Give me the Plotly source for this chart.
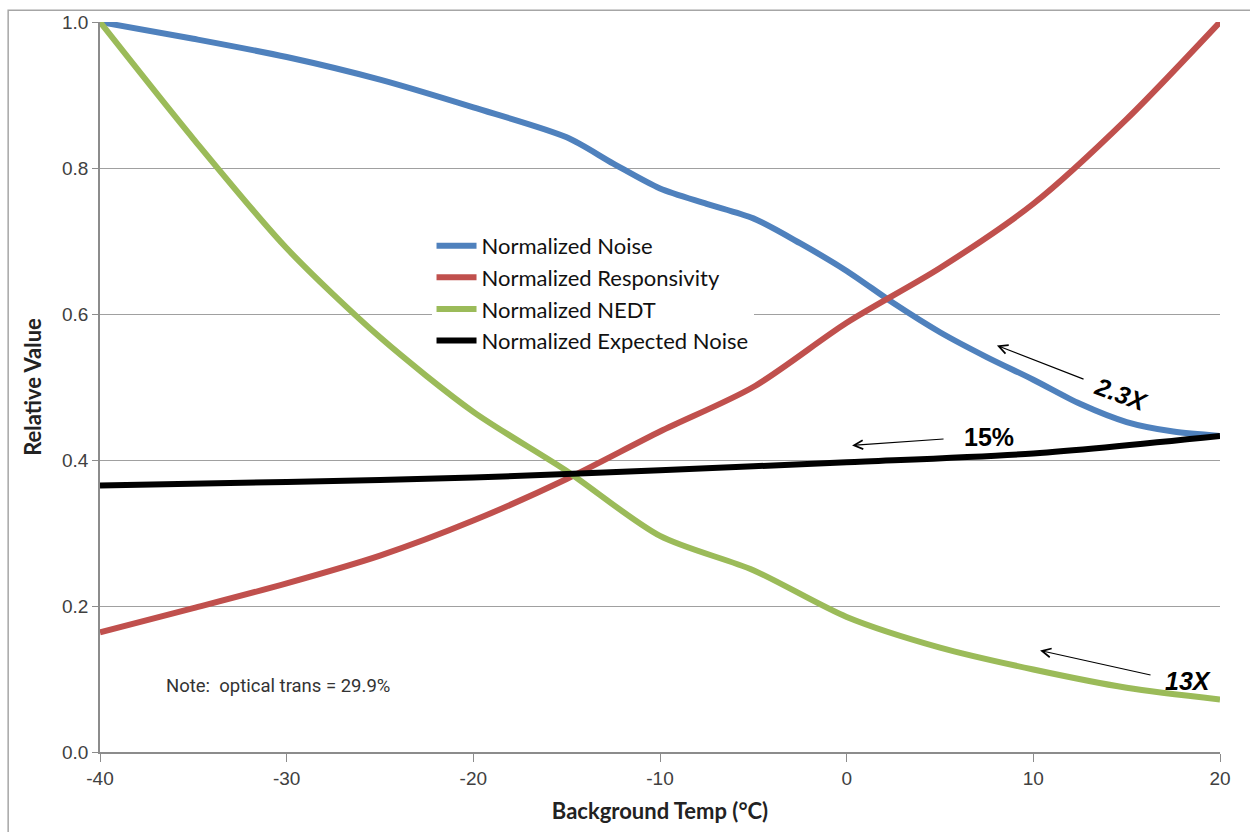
import plotly.graph_objects as go

temp = [-40, -35, -30, -25, -20, -15, -12.5, -10, -7.5, -5, -2.5, 0, 2.5, 5, 7.5, 10, 12.5, 15, 17.5, 20]
noise = [1.0, 0.977, 0.952, 0.921, 0.883, 0.842, 0.806, 0.772, 0.751, 0.731, 0.697, 0.659, 0.615, 0.575, 0.541, 0.510, 0.477, 0.452, 0.439, 0.433]

temp_r = [-40, -35, -30, -25, -20, -15, -10, -5, 0, 5, 10, 15, 20]
responsivity = [0.164, 0.197, 0.231, 0.269, 0.317, 0.374, 0.439, 0.500, 0.588, 0.663, 0.751, 0.867, 1.0]
nedt = [1.0, 0.840, 0.690, 0.568, 0.466, 0.385, 0.296, 0.249, 0.185, 0.143, 0.113, 0.088, 0.072]

temp_e = [-40, -30, -20, -10, 0, 10, 20]
expected = [0.365, 0.370, 0.376, 0.386, 0.397, 0.409, 0.433]

x_ticks = [-40, -30, -20, -10, 0, 10, 20]
y_ticks = [0.0, 0.2, 0.4, 0.6, 0.8, 1.0]

fig = go.Figure()
lw = 6
fig.add_trace(go.Scatter(x=temp, y=noise, mode="lines", name="Normalized Noise",
                         line=dict(color="#4F81BD", width=lw, shape="spline", smoothing=0.8)))
fig.add_trace(go.Scatter(x=temp_r, y=responsivity, mode="lines", name="Normalized Responsivity",
                         line=dict(color="#C0504D", width=lw, shape="spline", smoothing=0.8)))
fig.add_trace(go.Scatter(x=temp_r, y=nedt, mode="lines", name="Normalized NEDT",
                         line=dict(color="#9BBB59", width=lw, shape="spline", smoothing=0.8)))
fig.add_trace(go.Scatter(x=temp_e, y=expected, mode="lines", name="Normalized Expected Noise",
                         line=dict(color="#000000", width=lw, shape="spline", smoothing=0.8)))

tick_font = dict(family="Liberation Sans, Arial", size=19, color="#404040")
title_font = dict(family="Lato, Open Sans", size=22, color="#222222")

fig.update_layout(
    width=1250, height=832,
    margin=dict(l=100, r=30, t=17, b=79),
    paper_bgcolor="white", plot_bgcolor="white",
    showlegend=True,
    legend=dict(x=0.296, y=0.722, xanchor="left", yanchor="top",
                bgcolor="white", borderwidth=0,
                font=dict(family="Lato, Open Sans", size=22, color="#111111"),
                tracegroupgap=0, itemwidth=40),
    xaxis=dict(range=[-40, 20], tickvals=x_ticks, ticktext=[str(v) for v in x_ticks],
               showgrid=False, zeroline=False, showline=True, linecolor="#8c8c8c", linewidth=1.5,
               ticks="outside", ticklen=8, tickcolor="#8c8c8c", tickfont=tick_font,
               title=dict(text="<b>Background Temp (°C)</b>", font=title_font, standoff=16)),
    yaxis=dict(range=[0, 1.0], tickvals=y_ticks, ticktext=["%.1f" % v for v in y_ticks],
               showgrid=True, gridcolor="#a0a0a0", gridwidth=1, zeroline=False,
               showline=True, linecolor="#8c8c8c", linewidth=1.5,
               ticks="outside", ticklen=6, tickcolor="#8c8c8c", tickfont=tick_font,
               title=dict(text="<b>Relative Value</b>", font=title_font, standoff=14)),
)

# outer chart border (only top/left visible in frame)
fig.add_shape(type="rect", xref="paper", yref="paper", x0=-0.082, x1=1.2, y0=-0.2, y1=1.016,
              line=dict(color="#a6a6a6", width=1.5), fillcolor="rgba(0,0,0,0)", layer="below")

arrow_style = dict(showarrow=True, arrowhead=5, arrowsize=1.6, arrowwidth=1.1, arrowcolor="#000000",
                   axref="x", ayref="y", text="")
fig.add_annotation(x=8.05, y=0.557, ax=12.77, ay=0.510, **arrow_style)
fig.add_annotation(x=0.29, y=0.420, ax=5.27, ay=0.429, **arrow_style)
fig.add_annotation(x=10.36, y=0.139, ax=16.36, ay=0.105, **arrow_style)

lab_font = dict(family="Liberation Sans, Arial", size=25, color="#000000")
fig.add_annotation(x=14.7, y=0.490, text="<b><i>2.3X</i></b>", showarrow=False, textangle=20, font=lab_font)
fig.add_annotation(x=7.6, y=0.432, text="<b>15%</b>", showarrow=False, font=lab_font)
fig.add_annotation(x=18.3, y=0.097, text="<b><i>13X</i></b>", showarrow=False, font=lab_font)
fig.add_annotation(x=-36.55, y=0.091, xanchor="left", text="Note:  optical trans = 29.9%", showarrow=False,
                   font=dict(family="Roboto, Liberation Sans", size=18.5, color="#333333"))

fig.write_html("out.html")
